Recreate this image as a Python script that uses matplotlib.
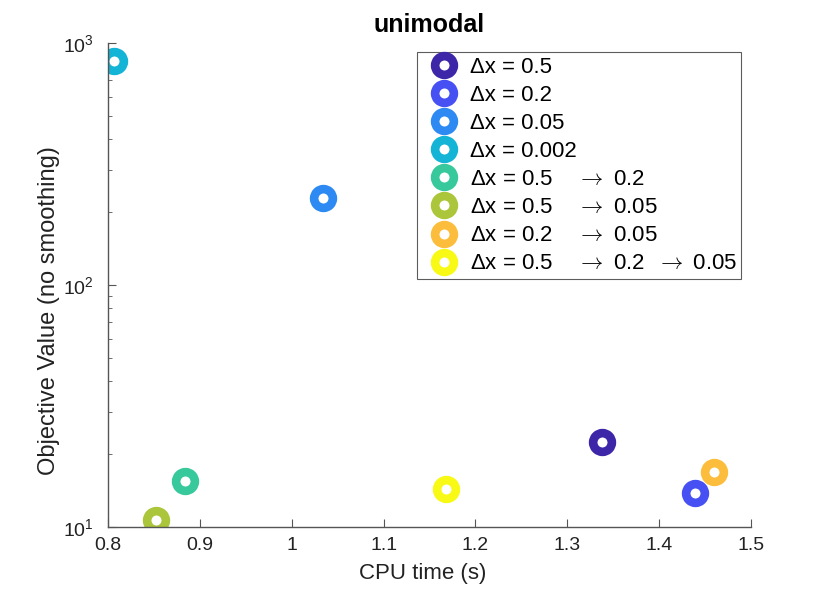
import matplotlib
matplotlib.use('Agg')
import matplotlib.pyplot as plt
from matplotlib.ticker import FixedLocator, FormatStrFormatter, LogLocator, NullFormatter

plt.rcParams['font.family'] = ['Liberation Sans', 'DejaVu Sans']
plt.rcParams['mathtext.fontset'] = 'cm'

# data
arrow = r'$\rightarrow$'
labels = ['\u0394x = 0.5', '\u0394x = 0.2', '\u0394x = 0.05', '\u0394x = 0.002',
          '\u0394x = 0.5    ' + arrow + ' 0.2',
          '\u0394x = 0.5    ' + arrow + ' 0.05',
          '\u0394x = 0.2    ' + arrow + ' 0.05',
          '\u0394x = 0.5    ' + arrow + ' 0.2  ' + arrow + ' 0.05']
cpu_time = [1.338, 1.439, 1.034, 0.807, 0.884, 0.852, 1.460, 1.168]
obj_value = [22.5, 13.8, 229, 845, 15.5, 10.7, 16.8, 14.4]
colors = ['#3e26a8', '#4750f2', '#2e8af3', '#13b4d6', '#37c99c', '#abc63a', '#fdbd3c', '#f9f916']
xticks = [0.8, 0.9, 1.0, 1.1, 1.2, 1.3, 1.4, 1.5]

fig = plt.figure(figsize=(8.3, 5.93), dpi=100)
ax = fig.add_axes([0.130, 0.1113, 0.775, 0.8162])

for x, y, c, lab in zip(cpu_time, obj_value, colors, labels):
    ax.plot(x, y, 'o', ms=13.5, mew=6.2, mec=c, mfc='white', label=lab, ls='none')

ax.set_yscale('log')
ax.set_xlim(0.8, 1.5)
ax.set_ylim(10, 1000)
ax.xaxis.set_major_locator(FixedLocator(xticks))
ax.xaxis.set_major_formatter(FormatStrFormatter('%g'))
ax.yaxis.set_minor_locator(LogLocator(base=10, subs=range(2, 10)))
ax.yaxis.set_minor_formatter(NullFormatter())

for s in ['top', 'right']:
    ax.spines[s].set_visible(False)
for s in ['left', 'bottom']:
    ax.spines[s].set_color('#555555')
    ax.spines[s].set_linewidth(1.0)
ax.tick_params(which='both', direction='in', colors='#555555', labelcolor='#222222', labelsize=14)
ax.tick_params(which='major', length=6)
ax.tick_params(which='minor', length=3)
ax.tick_params(axis='x', pad=7)
ax.tick_params(axis='y', pad=10)

ax.set_xlabel('CPU time (s)', fontsize=16, color='#222222')
ax.xaxis.set_label_coords(0.49, -0.074)
ax.set_ylabel('Objective Value (no smoothing)', fontsize=17, color='#222222')
ax.yaxis.set_label_coords(-0.075, 0.448)
ax.set_title('unimodal', fontsize=18, fontweight='bold', pad=8)

leg = ax.legend(loc='upper right', bbox_to_anchor=(0.9844, 0.981), fontsize=16,
                frameon=True, fancybox=False, borderpad=0.2, labelspacing=0.32,
                handletextpad=0.16, handlelength=2.0, borderaxespad=0)
leg.get_frame().set_edgecolor('#333333')
leg.get_frame().set_linewidth(0.8)

fig.savefig('out.png', dpi=100)
